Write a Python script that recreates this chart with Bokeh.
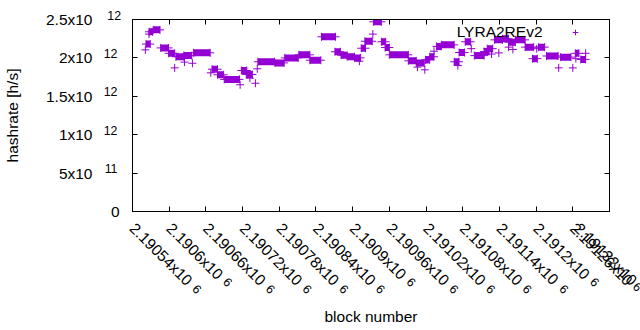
import math
import numpy as np
from bokeh.plotting import figure
from bokeh.models import (Range1d, FixedTicker, LinearAxis, Label, ColumnDataSource,
                          Legend, LegendItem)
from bokeh.embed import file_html
from bokeh.resources import INLINE

# ---------------- data (runs of equal hashrate, in units of 1e12 h/s) ----------------
run_first = [2190561, 2190562, 2190567, 2190567, 2190574, 2190586, 2190599, 2190609,
             2190611, 2190624, 2190625, 2190638, 2190640, 2190668, 2190670, 2190679,
             2190690, 2190716, 2190718, 2190726, 2190732, 2190741, 2190744, 2190745,
             2190773, 2190789, 2190812, 2190830, 2190849, 2190871, 2190881, 2190891,
             2190903, 2190911, 2190914, 2190920, 2190933, 2190934, 2190947, 2190953,
             2190960, 2190991, 2191004, 2191006, 2191018, 2191019, 2191026, 2191033,
             2191037, 2191045, 2191066, 2191072, 2191074, 2191084, 2191094, 2191099,
             2191115, 2191120, 2191127, 2191132, 2191139, 2191145, 2191155, 2191155,
             2191162, 2191166, 2191182, 2191194, 2191201, 2191204, 2191217, 2191237,
             2191240, 2191260, 2191264, 2191265, 2191273, 2191281]
run_last = [2190561, 2190569, 2190567, 2190573, 2190585, 2190599, 2190609, 2190609,
            2190624, 2190637, 2190625, 2190638, 2190667, 2190668, 2190679, 2190689,
            2190715, 2190716, 2190727, 2190736, 2190732, 2190741, 2190744, 2190772,
            2190788, 2190811, 2190830, 2190848, 2190872, 2190880, 2190891, 2190903,
            2190913, 2190911, 2190921, 2190932, 2190933, 2190947, 2190954, 2190960,
            2190991, 2191004, 2191017, 2191006, 2191018, 2191026, 2191033, 2191033,
            2191045, 2191066, 2191074, 2191072, 2191083, 2191093, 2191094, 2191115,
            2191123, 2191129, 2191127, 2191145, 2191139, 2191155, 2191166, 2191155,
            2191162, 2191182, 2191196, 2191202, 2191201, 2191214, 2191236, 2191237,
            2191257, 2191260, 2191270, 2191265, 2191281, 2191281]
run_hashrate_T = [2.105, 2.18, 2.31, 2.34, 2.365, 2.13, 2.06, 1.87,
                  2.015, 2.03, 1.945, 1.93, 2.066, 1.806, 1.853, 1.78,
                  1.72, 1.65, 1.836, 1.784, 1.736, 1.67, 1.858, 1.95,
                  1.935, 2.0, 2.04, 1.97, 2.275, 2.08, 2.035, 2.015,
                  2.0, 1.957, 2.126, 2.217, 2.31, 2.47, 2.21, 2.135,
                  2.04, 1.962, 1.935, 1.88, 1.845, 1.975, 2.015, 2.087,
                  2.15, 2.17, 1.95, 1.9, 2.07, 2.21, 2.12, 2.03,
                  2.083, 2.12, 2.05, 2.235, 2.065, 2.25, 2.205, 2.14,
                  2.11, 2.235, 2.14, 1.99, 2.12, 2.14, 2.025, 1.87,
                  2.01, 1.87, 2.06, 1.99, 1.98, 2.06]

series_name = "LYRA2REv2"
x_ticks = [2190540, 2190600, 2190660, 2190720, 2190780, 2190840, 2190900,
           2190960, 2191020, 2191080, 2191140, 2191200, 2191260, 2191320]
y_ticks = [0, 0.5e12, 1e12, 1.5e12, 2e12, 2.5e12]
x_title = "block number"
y_title = "hashrate [h/s]"

# ---------------- style ----------------
COLOR = "#9400D3"
FONT = "Liberation Sans"
FS = 15.5        # main text size, px
SFS = 12.4       # superscript size, px
W, H = 640, 330
ML, MR, MT, MB = 124, 31, 19, 119
FW, FH = W - ML - MR, H - MT - MB

hashrate = np.array(run_hashrate_T) * 1e12
first = np.array(run_first)
last = np.array(run_last)

p = figure(width=W, height=H, output_backend="svg", toolbar_location=None,
           x_range=Range1d(x_ticks[0], x_ticks[-1]), y_range=Range1d(y_ticks[0], y_ticks[-1]),
           min_border_left=ML, min_border_right=MR, min_border_top=MT, min_border_bottom=MB,
           x_axis_type=None, y_axis_type=None)
p.background_fill_color = "white"
p.border_fill_color = "white"
p.outline_line_color = "black"
p.outline_line_width = 1
p.grid.visible = False

CW = {"0": .556, "1": .556, "2": .556, "3": .556, "4": .556, "5": .556, "6": .556,
      "7": .556, "8": .556, "9": .556, ".": .278, "x": .5, "-": .333}

def twidth(s, fs):
    return sum(CW.get(c, .556) for c in s) * fs

def split(v):
    if v == 0:
        return "0", None
    e = int(math.floor(math.log10(abs(v)) + 1e-9))
    m = v / 10 ** e
    return "%gx10" % round(m, 6), str(e)

def shifted(lo, hi, shift):
    eps = (hi - lo) * 1e-7
    return Range1d(lo - shift - eps, hi - shift + eps)

def axis(ticks, labels, fs=FS, ticks_visible=False, standoff=0, orient="horizontal",
         range_name=None, **kw):
    ax = LinearAxis(ticker=FixedTicker(ticks=list(ticks)),
                    major_label_overrides={t: l for t, l in zip(ticks, labels)}, **kw)
    if range_name is not None:
        if range_name.startswith("x"):
            ax.x_range_name = range_name
        else:
            ax.y_range_name = range_name
    ax.major_tick_in = 5 if ticks_visible else 0
    ax.major_tick_out = 0
    ax.minor_tick_in = 0
    ax.minor_tick_out = 0
    ax.major_tick_line_color = "black" if ticks_visible else None
    ax.minor_tick_line_color = None
    ax.axis_line_color = "black" if ticks_visible else None
    ax.major_label_text_font = FONT
    ax.major_label_text_font_size = f"{fs}px"
    ax.major_label_text_color = "black"
    ax.major_label_standoff = standoff
    ax.major_label_orientation = orient
    ax.axis_label_text_font = FONT
    ax.axis_label_text_font_size = f"{FS}px"
    ax.axis_label_text_font_style = "normal"
    ax.axis_label_text_color = "black"
    return ax

def side_label(text, x, y, fs, align, angle=0.0):
    return Label(x=x, y=y, text=text, text_font=FONT, text_font_size=f"{fs}px",
                 text_align=align, text_baseline="middle", text_color="black", angle=angle)

px_x = (x_ticks[-1] - x_ticks[0]) / FW
px_y = (y_ticks[-1] - y_ticks[0]) / FH

# mirrored tick-only axes on top and right
p.add_layout(axis(x_ticks, [""] * len(x_ticks), fs=0, ticks_visible=True), "above")
p.add_layout(axis(y_ticks, [""] * len(y_ticks), fs=0, ticks_visible=True), "right")

# ---------- left: ticks (+ "0"), superscripts, mantissas ----------
y_main = [split(v)[0] for v in y_ticks]
y_sup = [split(v)[1] for v in y_ticks]
RAISE = 4.5
T_STAND = 13
w_zero = twidth("0", FS)
S_STAND = -round(w_zero + 1)
p.extra_y_ranges = {"ysup": shifted(y_ticks[0], y_ticks[-1], RAISE * px_y)}
zero_lab = [m if s is None else "" for m, s in zip(y_main, y_sup)]
p.add_layout(axis(y_ticks, zero_lab, ticks_visible=True, standoff=T_STAND), "left")
# superscripts that stay inside the frame's span go on a shifted axis
in_sup = [(v, s) for v, s in zip(y_ticks, y_sup)
          if s is not None and v + RAISE * px_y <= y_ticks[-1]]
out_sup = [(v, s) for v, s in zip(y_ticks, y_sup)
           if s is not None and v + RAISE * px_y > y_ticks[-1]]
p.add_layout(axis([v for v, _ in in_sup], [s for _, s in in_sup], fs=SFS,
                  standoff=S_STAND, range_name="ysup"), "left")
sup_right = -(T_STAND + w_zero) - S_STAND      # px, relative to frame left
for v, s in out_sup:
    p.add_layout(side_label(s, x_ticks[0] + sup_right * px_x, v + RAISE * px_y, SFS,
                            "right"), "above")
main_pairs = [(v, m) for v, m, s in zip(y_ticks, y_main, y_sup) if s is not None]
left_m = axis([v for v, _ in main_pairs], [m for _, m in main_pairs], standoff=8,
              axis_label=y_title)
left_m.axis_label_standoff = 22
p.add_layout(left_m, "left")

# ---------- below: ticks, mantissas (rotated), superscripts ----------
ang = -math.pi / 4
x_main = [split(v)[0] for v in x_ticks]
x_sup = [split(v)[1] for v in x_ticks]
p.add_layout(axis(x_ticks, [""] * len(x_ticks), fs=0, ticks_visible=True), "below")
p.add_layout(axis(x_ticks, x_main, standoff=14, orient=ang), "below")

GAP, XR = 6, 4
c = math.cos(math.pi / 4)
groups = {}
for v, m, s in zip(x_ticks, x_main, x_sup):
    groups.setdefault(len(m), []).append((v, s, twidth(m, FS)))
main_h = max(twidth(m, FS) for m in x_main) * c + FS * 1.15 * c
y_cursor = 211 + 0 + 14 + main_h       # top of next stacked panel (px from top)
anchor_y0 = 211 + 14                   # main label anchor (px from top)
extra = {}
sup_axes = []
for k, (L, items) in enumerate(sorted(groups.items(), reverse=True)):
    wmain = items[0][2]
    d = wmain + GAP
    dx = d * c + XR * c
    dy = d * c - XR * c
    shift_data = (dx - 1) * px_x
    name = f"xsup{k}"
    extra[name] = shifted(x_ticks[0], x_ticks[-1], shift_data)
    inside = [it for it in items if it[0] + shift_data <= x_ticks[-1]]
    outside = [it for it in items if it[0] + shift_data > x_ticks[-1]]
    standoff = round(anchor_y0 + dy - y_cursor)
    ax = axis([it[0] for it in inside], [it[1] for it in inside], fs=SFS, standoff=standoff,
              orient=ang, range_name=name)
    sup_h = standoff + (twidth("6", SFS) + SFS * 1.15) * c
    y_cursor += sup_h
    sup_axes.append(ax)
    for v, s, _ in outside:
        sx = v + shift_data
        if (sx - x_ticks[-1]) / px_x < MR:      # still on the canvas
            p.add_layout(side_label(s, sx, -(anchor_y0 + dy - 211) * px_y, SFS, "left",
                                    angle=ang), "right")
p.extra_x_ranges = extra
for ax in sup_axes:
    p.add_layout(ax, "below")
sup_axes[-1].axis_label = x_title
sup_axes[-1].axis_label_standoff = round(307 - y_cursor)

# ---------------- data marks ----------------
multi = first < last
seg_src = ColumnDataSource(dict(x0=first[multi], x1=last[multi], y=hashrate[multi]))
p.segment(x0="x0", y0="y", x1="x1", y1="y", source=seg_src, line_color=COLOR,
          line_width=7, line_cap="butt")
pt_src = ColumnDataSource(dict(x=np.concatenate([first, last[multi]]),
                               y=np.concatenate([hashrate, hashrate[multi]])))
r = p.scatter(x="x", y="y", source=pt_src, marker="cross", size=8,
              line_color=COLOR, line_width=1)

# ---------------- key (frame-relative screen coords, y up) ----------------
p.add_layout(Label(x=410, y=180, x_units="screen", y_units="screen", text=series_name,
                   text_font=FONT, text_font_size=f"{FS}px", text_align="right",
                   text_baseline="middle", text_color="black"))
leg = Legend(items=[LegendItem(label="", renderers=[r])], location=(436, 172),
             border_line_alpha=0, background_fill_alpha=0, padding=0, margin=0,
             glyph_width=14, glyph_height=14, label_standoff=0, label_width=0,
             label_height=14, label_text_font_size="1px")
p.add_layout(leg, "center")

open("out.html", "w").write(file_html(p, INLINE))
